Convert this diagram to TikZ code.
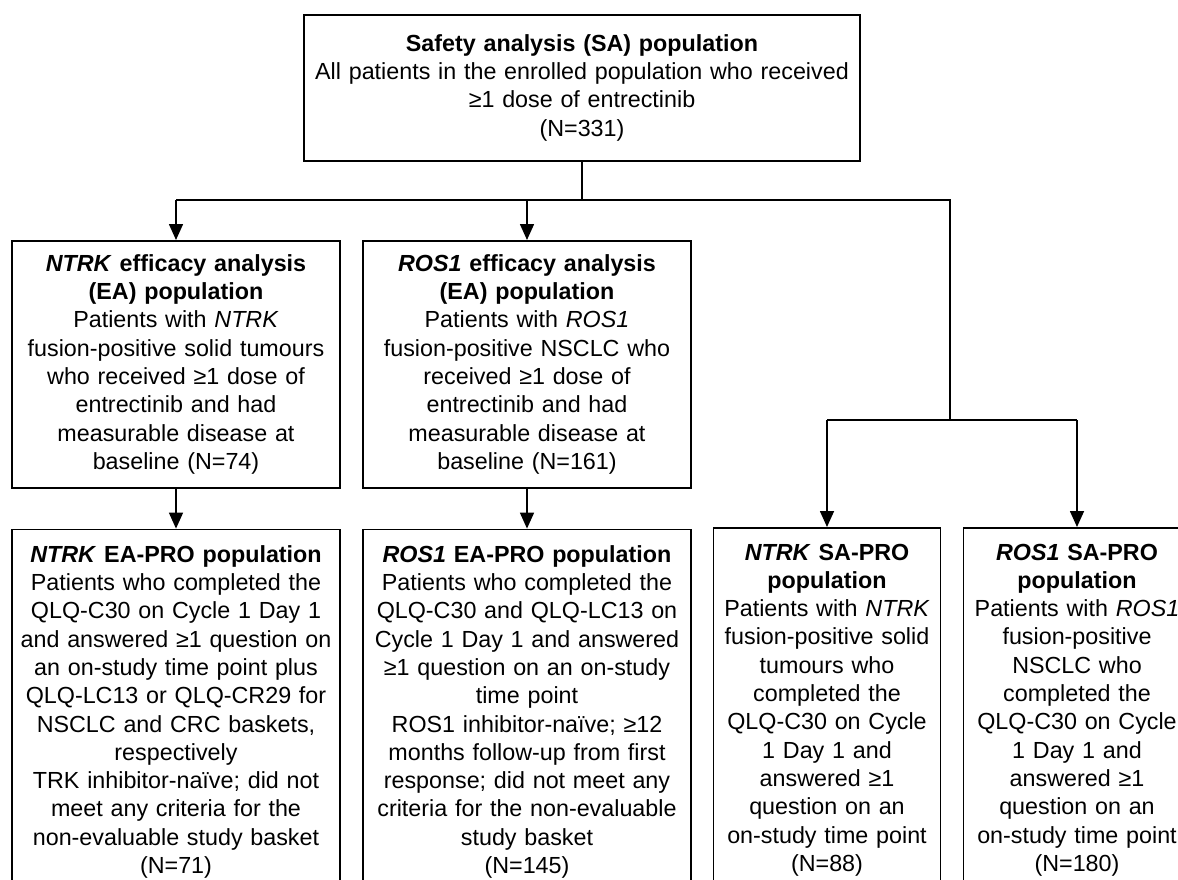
\documentclass[tikz,border=0pt]{standalone}
\usepackage{fontspec}
\setmainfont{Liberation Sans}
\usetikzlibrary{arrows.meta,positioning}

\begin{document}
\begin{tikzpicture}[
  x=1pt, y=-1pt,
  >={Triangle[length=16pt,width=14pt]},
  node distance=40pt and 23pt,
  every node/.style={font=\fontsize{23.3}{28.3}\selectfont},
  popbox/.style={draw, line width=1.6pt, align=center, anchor=north, inner xsep=3pt, inner ysep=16pt},
  wide/.style={popbox, text width=322pt},
  narrow/.style={popbox, text width=221pt},
  eabox/.style={wide, inner ysep=10pt, minimum height=247pt},
  pro/.style={text depth=380pt},
  link/.style={line width=1.6pt}
]
\useasboundingbox (0,0) rectangle (1178,880);
\fill[white] (0,0) rectangle (1178,880);
\clip (0,0) rectangle (1178,880);

\node[popbox, text width=550pt, minimum height=146pt] (SA) at (582,14)
  {\textbf{Safety analysis (SA) population}\\ All patients in the enrolled population who received\\ ≥1 dose of entrectinib\\ (N=331)};

\node[eabox] (NEA) at (176,240)
  {\textbf{\textit{NTRK} efficacy analysis}\\ \textbf{(EA) population}\\ Patients with \textit{NTRK}\\ fusion-positive solid tumours\\ who received ≥1 dose of\\ entrectinib and had\\ measurable disease at\\ baseline (N=74)};
\node[eabox] (REA) at (527,240)
  {\textbf{\textit{ROS1} efficacy analysis}\\ \textbf{(EA) population}\\ Patients with \textit{ROS1}\\ fusion-positive NSCLC who\\ received ≥1 dose of\\ entrectinib and had\\ measurable disease at\\ baseline (N=161)};

\node[wide, pro, below=40pt of NEA] (NPRO)
  {\textbf{\textit{NTRK} EA-PRO population}\\ Patients who completed the\\ QLQ-C30 on Cycle 1 Day 1\\ and answered ≥1 question on\\ an on-study time point plus\\ QLQ-LC13 or QLQ-CR29 for\\ NSCLC and CRC baskets,\\ respectively\\ TRK inhibitor-naïve; did not\\ meet any criteria for the\\ non-evaluable study basket\\ (N=71)};
\node[wide, pro, below=40pt of REA] (RPRO)
  {\textbf{\textit{ROS1} EA-PRO population}\\ Patients who completed the\\ QLQ-C30 and QLQ-LC13 on\\ Cycle 1 Day 1 and answered\\ ≥1 question on an on-study\\ time point\\ ROS1 inhibitor-naïve; ≥12\\ months follow-up from first\\ response; did not meet any\\ criteria for the non-evaluable\\ study basket\\ (N=145)};

\node[narrow, pro] (NSA) at (827,527)
  {\textbf{\textit{NTRK} SA-PRO}\\ \textbf{population}\\ Patients with \textit{NTRK}\\ fusion-positive solid\\ tumours who\\ completed the\\ QLQ-C30 on Cycle\\ 1 Day 1 and\\ answered ≥1\\ question on an\\ on-study time point\\ (N=88)};
\node[narrow, pro] (RSA) at (1077,527)
  {\textbf{\textit{ROS1} SA-PRO}\\ \textbf{population}\\ Patients with \textit{ROS1}\\ fusion-positive\\ NSCLC who\\ completed the\\ QLQ-C30 on Cycle\\ 1 Day 1 and\\ answered ≥1\\ question on an\\ on-study time point\\ (N=180)};

% branching connectors
\coordinate (jL) at (176,200);
\coordinate (jR) at (950,200);
\coordinate (kR) at (950,420);
\draw[link] (SA.south) -- (SA.south |- jL);
\draw[link] (jL) -- (jR) -- (kR);
\draw[link, ->] (jL) -- (NEA.north);
\draw[link, ->] (REA.north |- jL) -- (REA.north);
\draw[link] (NSA.north |- kR) -- (RSA.north |- kR);
\draw[link, ->] (NSA.north |- kR) -- (NSA.north);
\draw[link, ->] (RSA.north |- kR) -- (RSA.north);
\draw[link, ->] (NEA) -- (NPRO);
\draw[link, ->] (REA) -- (RPRO);
\end{tikzpicture}
\end{document}
